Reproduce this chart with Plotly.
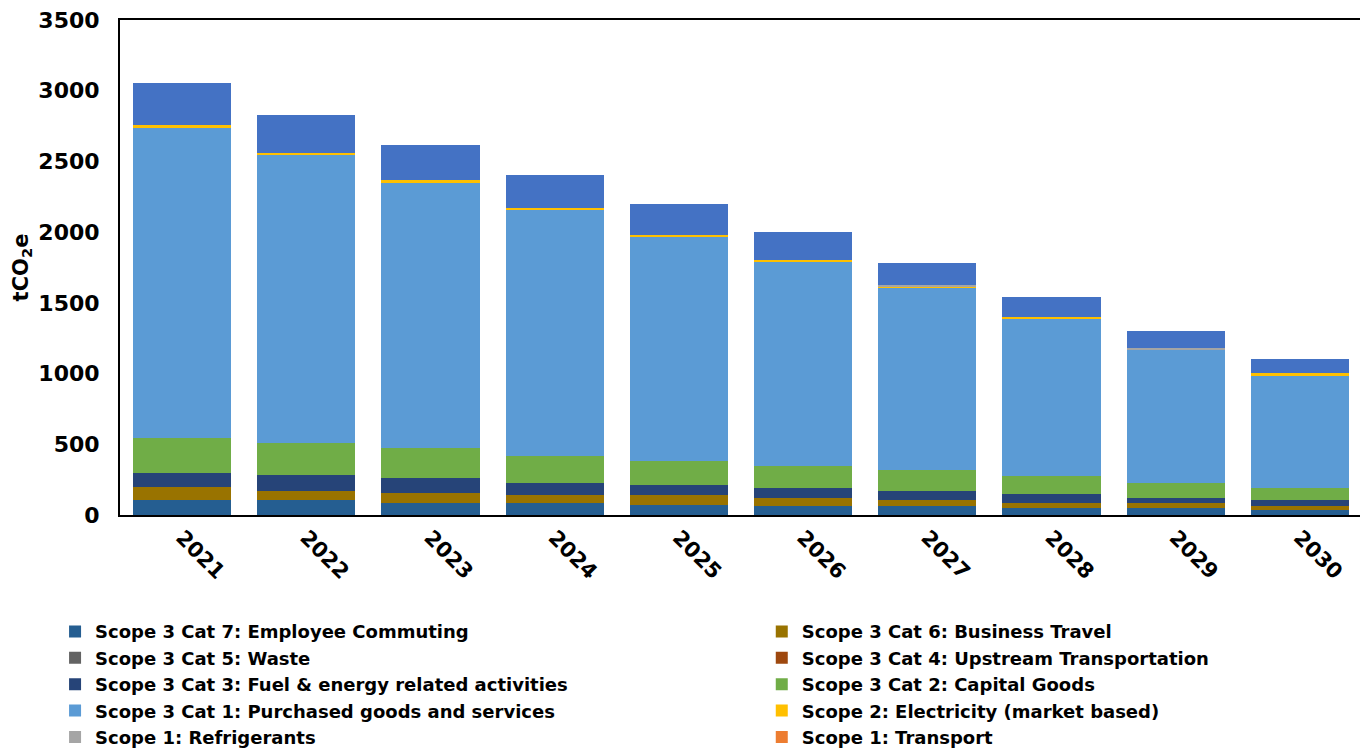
import plotly.graph_objects as go

years = ["2021", "2022", "2023", "2024", "2025", "2026", "2027", "2028", "2029", "2030"]

commuting   = [106, 103, 86, 86, 69, 67, 67, 48, 48, 32]
bus_travel  = [92, 70, 71, 52, 69, 55, 36, 38, 38, 35]
waste       = [0, 0, 0, 0, 0, 0, 0, 0, 0, 0]
upstream    = [0, 0, 0, 0, 0, 0, 0, 0, 0, 0]
fuel        = [101, 107, 103, 87, 71, 66, 70, 66, 33, 36]
capital     = [248, 228, 216, 194, 175, 160, 142, 125, 109, 87]
purchased   = [2192, 2034, 1872, 1736, 1580, 1441, 1295, 1107, 944, 790]
electricity = [18, 19, 20, 19, 19, 17, 8, 19, 0, 24]
refrigerant = [0, 0, 0, 0, 0, 0, 10, 0, 8, 0]
transport   = [0, 0, 0, 0, 0, 0, 0, 0, 0, 0]
other_top   = [295, 264, 245, 229, 213, 194, 157, 139, 118, 102]

# (name, values, colour, legend id or None)
series = [
    ("Scope 3 Cat 7: Employee Commuting", commuting, "#255E91", "legend"),
    ("Scope 3 Cat 6: Business Travel", bus_travel, "#997300", "legend2"),
    ("Scope 3 Cat 5: Waste", waste, "#636363", "legend"),
    ("Scope 3 Cat 4: Upstream Transportation", upstream, "#9E480E", "legend2"),
    ("Scope 3 Cat 3: Fuel & energy related activities", fuel, "#264478", "legend"),
    ("Scope 3 Cat 2: Capital Goods", capital, "#70AD47", "legend2"),
    ("Scope 3 Cat 1: Purchased goods and services", purchased, "#5B9BD5", "legend"),
    ("Scope 2: Electricity (market based)", electricity, "#FFC000", "legend2"),
    ("Scope 1: Refrigerants", refrigerant, "#A5A5A5", "legend"),
    ("Scope 1: Transport", transport, "#ED7D31", "legend2"),
    ("Other", other_top, "#4472C4", None),
]

FONT = "DejaVu Sans"

fig = go.Figure()
for name, vals, color, leg in series:
    fig.add_trace(go.Bar(
        x=years, y=vals, name=name,
        showlegend=leg is not None, legend=leg or "legend",
        marker=dict(color=color, line=dict(width=0)),
    ))

legend_common = dict(
    orientation="h", yanchor="top", yref="container", xref="container",
    xanchor="left", y=0.192, entrywidthmode="pixels", entrywidth=700,
    font=dict(family=FONT, size=18, color="black", weight="bold"),
    traceorder="normal", itemclick=False, tracegroupgap=0,
    bgcolor="rgba(0,0,0,0)",
)

fig.update_layout(
    barmode="stack",
    bargap=0.21,
    width=1368, height=749,
    paper_bgcolor="white", plot_bgcolor="white",
    margin=dict(l=112, r=14, t=12, b=242),
    font=dict(family=FONT, color="black"),
    showlegend=True,
    legend=dict(x=0.0344, **legend_common),
    legend2=dict(x=0.551, **legend_common),
    xaxis=dict(
        showline=True, linecolor="black", linewidth=2, mirror=True,
        ticks="", tickangle=45, automargin=False, ticklabeloverflow="allow",
        tickfont=dict(family=FONT, size=21, color="black", weight="bold"),
        showgrid=False,
    ),
    yaxis=dict(
        range=[0, 3500], dtick=500, tick0=0, automargin=False,
        ticklabeloverflow="allow",
        showline=True, linecolor="black", linewidth=2, mirror=True,
        ticks="", showgrid=False, zeroline=False,
        tickfont=dict(family=FONT, size=22, color="black", weight="bold"),
        ticklabelstandoff=14,
        title=dict(text="tCO<sub>2</sub>e", standoff=4,
                   font=dict(family=FONT, size=21, color="black", weight="bold")),
    ),
)

fig.write_html("out.html")
